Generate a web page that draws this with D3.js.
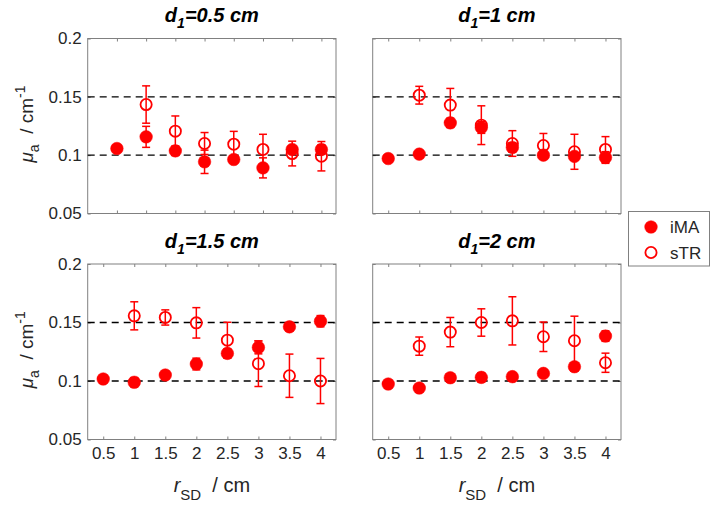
<!DOCTYPE html>
<html><head><meta charset="utf-8">
<script src="https://cdn.jsdelivr.net/npm/d3@7"></script>
<style>body{margin:0;background:#fff} svg{display:block;font-family:"Liberation Sans",Arial,sans-serif}</style>
</head><body><svg id="c" width="715" height="508"></svg>
<script>
// ---- data ----
const rSD = [0.5, 1, 1.5, 2, 2.5, 3, 3.5, 4];
const xTickLabels = ["0.5", "1", "1.5", "2", "2.5", "3", "3.5", "4"];
const yTicks = [0.05, 0.1, 0.15, 0.2];
const yTickLabels = ["0.05", "0.1", "0.15", "0.2"];
const refLines = [0.1, 0.15];
const panelTitles = ["0.5", "1", "1.5", "2"];
const seriesNames = ["iMA", "sTR"];

const iMA_d05 = [0.1057, 0.1157, 0.1037, 0.0943, 0.0963, 0.0891, 0.1049, 0.1049];
const iMAerr_d05 = [0.001, 0.009, 0.004, 0.010, 0.003, 0.0086, 0.003, 0.004];
const sTR_d05 = [null, 0.1434, 0.1206, 0.1100, 0.1094, 0.1049, 0.1014, 0.0991];
const sTRerr_d05 = [null, 0.016, 0.013, 0.0094, 0.011, 0.013, 0.0106, 0.0126];

const iMA_d1 = [0.0971, 0.1009, 0.1277, 0.1237, 0.1066, 0.1000, 0.0990, 0.0980];
const iMAerr_d1 = [0.001, 0.002, 0.004, 0.005, 0.004, 0.003, 0.003, 0.005];
const sTR_d1 = [null, 0.1514, 0.1429, 0.1257, 0.1100, 0.1083, 0.1029, 0.1049];
const sTRerr_d1 = [null, 0.0076, 0.0143, 0.0166, 0.011, 0.0103, 0.015, 0.011];

const iMA_d15 = [0.1017, 0.0989, 0.1051, 0.1145, 0.1236, 0.1287, 0.1463, 0.1511];
const iMAerr_d15 = [0.001, 0.004, 0.002, 0.005, 0.004, 0.0055, 0.002, 0.0048];
const sTR_d15 = [null, 0.1557, 0.1543, 0.1497, 0.1349, 0.1148, 0.1045, 0.1000];
const sTRerr_d15 = [null, 0.012, 0.0065, 0.013, 0.0153, 0.0195, 0.0185, 0.0193];

const iMA_d2 = [0.0974, 0.0940, 0.1028, 0.1031, 0.1037, 0.1065, 0.1122, 0.1384];
const iMAerr_d2 = [0.001, 0.002, 0.002, 0.004, 0.002, 0.002, 0.002, 0.0045];
const sTR_d2 = [null, 0.1298, 0.1418, 0.1500, 0.1514, 0.1378, 0.1344, 0.1156];
const sTRerr_d2 = [null, 0.0078, 0.0125, 0.0117, 0.0206, 0.0126, 0.021, 0.0082];

const panelData = [
  {title: panelTitles[0], iMA: iMA_d05, iMAerr: iMAerr_d05, sTR: sTR_d05, sTRerr: sTRerr_d05},
  {title: panelTitles[1], iMA: iMA_d1, iMAerr: iMAerr_d1, sTR: sTR_d1, sTRerr: sTRerr_d1},
  {title: panelTitles[2], iMA: iMA_d15, iMAerr: iMAerr_d15, sTR: sTR_d15, sTRerr: sTRerr_d15},
  {title: panelTitles[3], iMA: iMA_d2, iMAerr: iMAerr_d2, sTR: sTR_d2, sTRerr: sTRerr_d2}
];

// ---- layout ----
const layout = [
  {x0: 87.7, x1: 336, y0: 38.5, y1: 213.5, xd: [0, 4.25], xlab: false, ylab: true},
  {x0: 372.7, x1: 621, y0: 38.5, y1: 213.5, xd: [0.25, 4.25], xlab: false, ylab: false},
  {x0: 87.7, x1: 336, y0: 264, y1: 439.5, xd: [0.25, 4.25], xlab: true, ylab: true},
  {x0: 372.7, x1: 621, y0: 264, y1: 439.5, xd: [0.25, 4.25], xlab: true, ylab: false}
];
const RED = "#ff0000";
const FRAME = "#808080";
const TXT = "#262626";

const svg = d3.select("#c");

panelData.forEach((pd, i) => {
  const L = layout[i];
  const x = d3.scaleLinear().domain(L.xd).range([L.x0, L.x1]);
  const y = d3.scaleLinear().domain([0.05, 0.2]).range([L.y1, L.y0]);
  const g = svg.append("g");

  // frame
  g.append("rect").attr("x", L.x0).attr("y", L.y0).attr("width", L.x1 - L.x0).attr("height", L.y1 - L.y0)
    .attr("fill", "none").attr("stroke", FRAME).attr("stroke-width", 1);

  const styleAxis = (sel) => {
    sel.select(".domain").remove();
    sel.selectAll(".tick line").attr("stroke", FRAME);
    sel.selectAll(".tick text").attr("fill", TXT).attr("font-size", 17);
  };

  const xb = d3.axisBottom(x).tickValues(rSD).tickSize(-3).tickPadding(7)
    .tickFormat((d, k) => L.xlab ? xTickLabels[k] : "");
  g.append("g").attr("transform", `translate(0,${L.y1})`).call(xb).call(styleAxis);
  const xt = d3.axisTop(x).tickValues(rSD).tickSize(-3).tickFormat("");
  g.append("g").attr("transform", `translate(0,${L.y0})`).call(xt).call(styleAxis);
  const yl = d3.axisLeft(y).tickValues(yTicks).tickSize(-3).tickPadding(6)
    .tickFormat((d, k) => L.ylab ? yTickLabels[k] : "");
  g.append("g").attr("transform", `translate(${L.x0},0)`).call(yl).call(styleAxis);
  const yr = d3.axisRight(y).tickValues(yTicks).tickSize(-3).tickFormat("");
  g.append("g").attr("transform", `translate(${L.x1},0)`).call(yr).call(styleAxis);

  // dashed reference lines
  g.selectAll(".ref").data(refLines).enter().append("line")
    .attr("x1", L.x0).attr("x2", L.x1).attr("y1", d => y(d)).attr("y2", d => y(d))
    .attr("stroke", "#000").attr("stroke-width", 1.3).attr("stroke-dasharray", "7,5");

  const drawSeries = (vals, errs, filled) => {
    const pts = rSD.map((r, k) => ({r, v: vals[k], e: errs[k]})).filter(p => p.v != null);
    const eg = g.append("g").attr("stroke", RED).attr("stroke-width", 1.5);
    pts.forEach(p => {
      eg.append("line").attr("x1", x(p.r)).attr("x2", x(p.r)).attr("y1", y(p.v - p.e)).attr("y2", y(p.v + p.e));
      eg.append("line").attr("x1", x(p.r) - 4).attr("x2", x(p.r) + 4).attr("y1", y(p.v - p.e)).attr("y2", y(p.v - p.e));
      eg.append("line").attr("x1", x(p.r) - 4).attr("x2", x(p.r) + 4).attr("y1", y(p.v + p.e)).attr("y2", y(p.v + p.e));
    });
    g.append("g").selectAll("circle").data(pts).enter().append("circle")
      .attr("cx", p => x(p.r)).attr("cy", p => y(p.v))
      .attr("r", filled ? 6.3 : 5.6)
      .attr("fill", filled ? RED : "none")
      .attr("stroke", RED).attr("stroke-width", filled ? 0.5 : 1.8);
  };
  drawSeries(pd.sTR, pd.sTRerr, false);
  drawSeries(pd.iMA, pd.iMAerr, true);

  // title
  const cx = (L.x0 + L.x1) / 2;
  const t = g.append("text").attr("x", cx).attr("y", L.y0 - 16.5).attr("text-anchor", "middle")
    .attr("font-size", 20).attr("font-weight", "bold").attr("font-style", "italic").attr("fill", "#000");
  t.append("tspan").text("d");
  t.append("tspan").attr("dy", 6).attr("font-size", 14).text("1");
  t.append("tspan").attr("dy", -6).text("=" + pd.title + " cm");

  // x label
  if (L.xlab) {
    const xlT = g.append("text").attr("x", cx).attr("y", 491.5).attr("text-anchor", "middle")
      .attr("font-size", 20).attr("fill", TXT);
    xlT.append("tspan").attr("font-style", "italic").text("r");
    xlT.append("tspan").attr("dy", 8).attr("font-size", 15).text("SD");
    xlT.append("tspan").attr("dy", -8).text("\u00a0 / cm");
  }
  // y label
  if (L.ylab) {
    const cy = (L.y0 + L.y1) / 2;
    const ylT = g.append("text").attr("transform", `translate(33,${cy - 2}) rotate(-90)`)
      .attr("text-anchor", "middle").attr("font-size", 19).attr("fill", TXT);
    ylT.append("tspan").attr("font-style", "italic").text("\u03bc");
    ylT.append("tspan").attr("dy", 6).attr("font-size", 14).text("a");
    ylT.append("tspan").attr("dy", -6).text("\u00a0 / cm");
    ylT.append("tspan").attr("dy", -8).attr("font-size", 14).text("-1");
  }
});

// legend
const lg = svg.append("g");
lg.append("rect").attr("x", 628.5).attr("y", 211.5).attr("width", 81).attr("height", 54.5)
  .attr("fill", "#fff").attr("stroke", FRAME).attr("stroke-width", 1);
seriesNames.forEach((name, k) => {
  const yy = 227 + k * 25.5;
  lg.append("circle").attr("cx", 651).attr("cy", yy).attr("r", k === 0 ? 6.3 : 5.6)
    .attr("fill", k === 0 ? RED : "none").attr("stroke", RED).attr("stroke-width", k === 0 ? 0.5 : 1.8);
  lg.append("text").attr("x", 670).attr("y", yy + 6).attr("font-size", 17).attr("fill", TXT).text(name);
});
</script></body></html>
